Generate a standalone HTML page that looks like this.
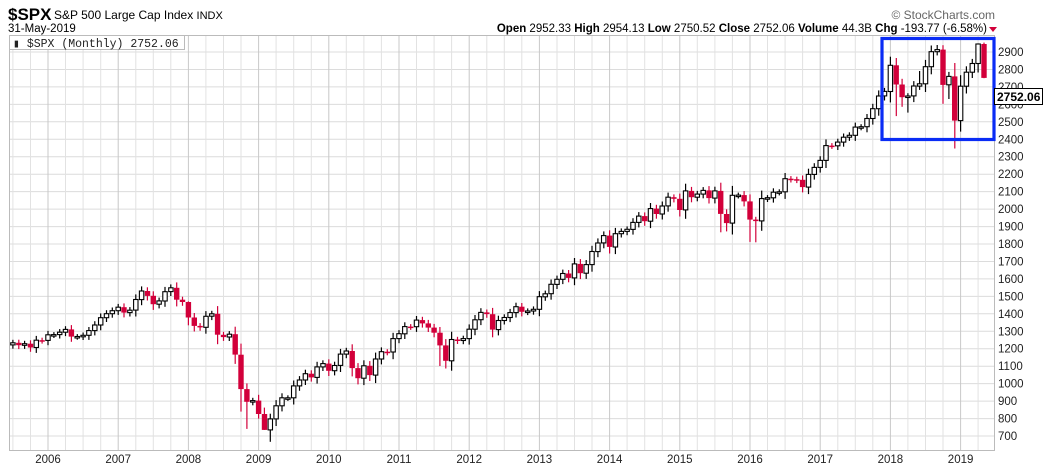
<!DOCTYPE html>
<html><head><meta charset="utf-8"><style>
body{margin:0;background:#fff;width:1055px;height:471px;overflow:hidden;font-family:"Liberation Sans",Arial,sans-serif}
</style></head><body>
<svg id="s" width="1055" height="471" xmlns="http://www.w3.org/2000/svg" font-family="Liberation Sans, Arial, sans-serif"></svg>
<script>
const C=[1234,1220,1229,1207,1249,1248,
1280,1281,1295,1311,1270,1270,1277,1304,1336,1378,1401,1418,
1438,1407,1421,1482,1531,1503,1455,1474,1527,1549,1481,1468,
1379,1331,1323,1386,1400,1280,1267,1283,1166,969,896,903,
826,735,798,873,919,919,987,1021,1057,1036,1096,1115,
1074,1104,1169,1187,1089,1031,1102,1049,1141,1183,1181,1258,
1286,1327,1326,1364,1345,1321,1292,1219,1131,1253,1247,1258,
1312,1366,1408,1398,1310,1362,1379,1407,1441,1412,1416,1426,
1498,1515,1569,1598,1631,1606,1686,1633,1682,1757,1806,1848,
1783,1859,1872,1884,1924,1960,1931,2003,1972,2018,2068,2059,
1995,2104,2068,2086,2107,2063,2104,1972,1920,2079,2080,2044,
1940,1932,2060,2065,2097,2099,2174,2171,2168,2126,2199,2239,
2279,2364,2363,2384,2412,2423,2470,2472,2519,2575,2648,2674,
2824,2714,2641,2648,2705,2718,2816,2902,2914,2712,2760,2507,
2704,2784,2834,2946,2752];
const lows={39:840,40:741,43:735,44:667,42:800,73:1101,75:1074,121:1867,122:1872,126:1812,127:1810,151:2533,152:2586,153:2553,159:2603,160:2631,161:2347,162:2444,166:2750};
const highs={150:2873,158:2940,159:2939,165:2949,166:2954,155:2791,30:1471};
const y=v=>52+(2900-v)*0.17455;
const x=m=>48+(m-6)*5.85;
let s='';
for(let v=700;v<=2900;v+=100){s+=`<line x1="9" x2="994" y1="${y(v).toFixed(1)}" y2="${y(v).toFixed(1)}" stroke="#dcdcdc" stroke-width="1"/>`;
s+=`<text x="998" y="${(y(v)+4).toFixed(1)}" font-size="11.5" fill="#222">${v}</text>`;}
for(let q=0;q<60;q++){const m=q*3;const xx=x(m);if(xx<9||xx>994)continue;
s+=`<line x1="${xx.toFixed(1)}" x2="${xx.toFixed(1)}" y1="35" y2="450" stroke="${m%12==6?'#c8c8c8':'#e2e2e2'}" stroke-width="1"/>`;}
for(let yr=2006;yr<=2019;yr++){const xx=x((yr-2006)*12+6);s+=`<text x="${xx.toFixed(1)}" y="463" font-size="11.5" text-anchor="middle" fill="#222">${yr}</text>`;}
let o=1222;
for(let i=0;i<C.length;i++){const c=C[i];const up=c>=o;
let hi=highs[i]||Math.max(o,c)+Math.abs(c-o)*0.25+14;let lo=lows[i]||Math.min(o,c)-Math.abs(c-o)*0.3-18;
const xx=x(i);const col=up?'#000':'#d2003a';
s+=`<line x1="${xx.toFixed(1)}" x2="${xx.toFixed(1)}" y1="${y(hi).toFixed(1)}" y2="${y(lo).toFixed(1)}" stroke="${col}" stroke-width="1.2"/>`;
const t=y(Math.max(o,c)),b=y(Math.min(o,c));const h=Math.max(b-t,1.5);
if(up)s+=`<rect x="${(xx-2.2).toFixed(1)}" y="${t.toFixed(1)}" width="4.4" height="${h.toFixed(1)}" fill="#fff" stroke="#000" stroke-width="1.1"/>`;
else s+=`<rect x="${(xx-2.7).toFixed(1)}" y="${t.toFixed(1)}" width="5.4" height="${h.toFixed(1)}" fill="#d2003a"/>`;
o=c;}
s+=`<rect x="9.5" y="35.5" width="985" height="415" fill="none" stroke="#bbb"/>`;
s+=`<rect x="882" y="38.5" width="112" height="101" fill="none" stroke="#0a2cf5" stroke-width="3.2"/>`;
s+=`<rect x="994.5" y="88.5" width="48" height="16" fill="#fff" stroke="#000"/><text x="997" y="101" font-size="12" font-weight="bold">2752.06</text>`;
s+=`<rect x="9.5" y="35.5" width="175" height="14" fill="#fff" stroke="#bbb"/><text x="13" y="47" font-size="11.5" font-family="Liberation Mono, DejaVu Sans Mono, monospace" fill="#222">▮ $SPX (Monthly) 2752.06</text>`;
s+=`<text x="8" y="20" font-size="17" font-weight="bold">$SPX</text><text x="54" y="19" font-size="12">S&amp;P 500 Large Cap Index <tspan font-size="11">INDX</tspan></text>`;
s+=`<text x="8" y="32" font-size="11.5">31-May-2019</text>`;
s+=`<text x="995" y="19" font-size="12" text-anchor="end" fill="#666">© StockCharts.com</text>`;
s+=`<text x="987" y="32" font-size="11.5" text-anchor="end"><tspan font-weight="bold">Open</tspan> 2952.33  <tspan font-weight="bold">High</tspan> 2954.13  <tspan font-weight="bold">Low</tspan> 2750.52  <tspan font-weight="bold">Close</tspan> 2752.06  <tspan font-weight="bold">Volume</tspan> 44.3B  <tspan font-weight="bold">Chg</tspan> -193.77 (-6.58%)</text>`;
s+=`<polygon points="989,27 997,27 993,32" fill="#d2003a"/>`;
document.getElementById('s').innerHTML=s;
</script>
</body></html>
